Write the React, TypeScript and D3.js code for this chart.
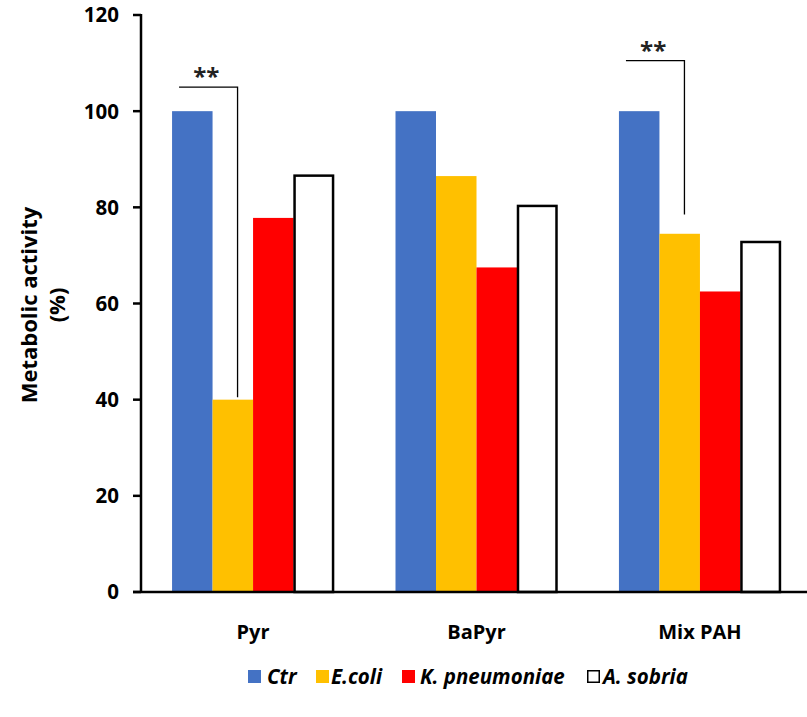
import React from "react";
import * as d3 from "d3";

const categories = ["Pyr", "BaPyr", "Mix PAH"];
const seriesNames = ["Ctr", "E.coli", "K. pneumoniae", "A. sobria"];
const ctrValues = [100, 100, 100];
const ecoliValues = [40, 86.5, 74.5];
const kpneuValues = [77.8, 67.5, 62.5];
const asobriaValues = [86.8, 80.5, 73];
const yTicks = [0, 20, 40, 60, 80, 100, 120];
const seriesColors = ["#4472C4", "#FFC000", "#FF0000", "#FFFFFF"];

const W = 807;
const H = 717;
const FONT = "'Open Sans', 'Liberation Sans', sans-serif";

export default function App() {
  const seriesValues = [ctrValues, ecoliValues, kpneuValues, asobriaValues];
  const axisX = 141;
  const y = d3.scaleLinear().domain([0, 120]).range([592, 15]);
  const x0 = d3
    .scaleBand<string>()
    .domain(categories)
    .range([axisX, 812])
    .paddingInner(0.275)
    .paddingOuter(0.139);
  const x1 = d3
    .scaleBand<string>()
    .domain(seriesNames)
    .range([0, x0.bandwidth()]);

  const brackets = [
    { cat: 0, top: 105, bottom: 40.5, label: "**" },
    { cat: 2, top: 110.5, bottom: 78.5, label: "**" },
  ];

  const legendItems = [
    { x: 248, tx: 267 },
    { x: 316, tx: 331 },
    { x: 402, tx: 420 },
    { x: 587, tx: 603 },
  ];

  return (
    <svg
      width={W}
      height={H}
      style={{ position: "absolute", left: 0, top: 0, background: "#fff" }}
      fontFamily={FONT}
    >
      {categories.map((c, ci) => (
        <g key={c} transform={`translate(${x0(c)},0)`}>
          {seriesNames.map((s, si) => {
            const v = seriesValues[si][ci];
            const isOutline = si === 3;
            return (
              <rect
                key={s}
                x={(x1(s) as number) + (isOutline ? 1 : 0)}
                y={y(v) + (isOutline ? 1 : 0)}
                width={x1.bandwidth() - (isOutline ? 2 : 0)}
                height={y(0) - y(v) - (isOutline ? 1 : 0)}
                fill={seriesColors[si]}
                stroke={isOutline ? "#000" : "none"}
                strokeWidth={isOutline ? 2.5 : 0}
              />
            );
          })}
        </g>
      ))}

      {brackets.map((b, i) => {
        const gx = x0(categories[b.cat]) as number;
        const xl = gx + 7;
        const xr = gx + x1.bandwidth() + 25;
        const yt = y(b.top);
        return (
          <g key={i}>
            <path
              d={`M${xl},${yt}H${xr}V${y(b.bottom)}`}
              fill="none"
              stroke="#000"
              strokeWidth={1.3}
            />
            <text
              x={(xl + xr) / 2 - 2}
              y={yt - 2}
              textAnchor="middle"
              fontSize={24}
              fontWeight="bold"
              fill="#222"
            >
              {b.label}
            </text>
          </g>
        );
      })}

      <line x1={axisX} x2={axisX} y1={y(120) - 1} y2={y(0)} stroke="#000" strokeWidth={2.5} />
      {yTicks.map((t) => (
        <g key={t}>
          <line x1={axisX - 8} x2={axisX} y1={y(t)} y2={y(t)} stroke="#000" strokeWidth={2.5} />
          <text
            x={119}
            y={y(t)}
            dy="0.36em"
            textAnchor="end"
            fontSize={20.5}
            fontWeight="bold"
            fill="#000"
          >
            {t}
          </text>
        </g>
      ))}

      <line x1={axisX - 8} x2={W} y1={y(0)} y2={y(0)} stroke="#000" strokeWidth={2.5} />
      {categories.map((c) => (
        <text
          key={c}
          x={(x0(c) as number) + x0.bandwidth() / 2}
          y={639}
          textAnchor="middle"
          fontSize={20}
          fontWeight="bold"
          fill="#000"
        >
          {c}
        </text>
      ))}

      <g transform="translate(37,305) rotate(-90)">
        <text x={0} y={0} textAnchor="middle" fontSize={22} fontWeight="bold" fill="#000">
          Metabolic activity
        </text>
        <text x={0} y={28} textAnchor="middle" fontSize={22} fontWeight="bold" fill="#000">
          (%)
        </text>
      </g>

      {seriesNames.map((s, i) => (
        <g key={s}>
          <rect
            x={legendItems[i].x + (i === 3 ? 0.75 : 0)}
            y={670 + (i === 3 ? 0.75 : 0)}
            width={i === 3 ? 11.5 : 13}
            height={i === 3 ? 11.5 : 13}
            fill={seriesColors[i]}
            stroke={i === 3 ? "#000" : "none"}
            strokeWidth={1.5}
          />
          <text
            x={legendItems[i].tx}
            y={684}
            fontSize={20.5}
            fontWeight="bold"
            fontStyle="italic"
            fill="#000"
          >
            {s}
          </text>
        </g>
      ))}
    </svg>
  );
}
